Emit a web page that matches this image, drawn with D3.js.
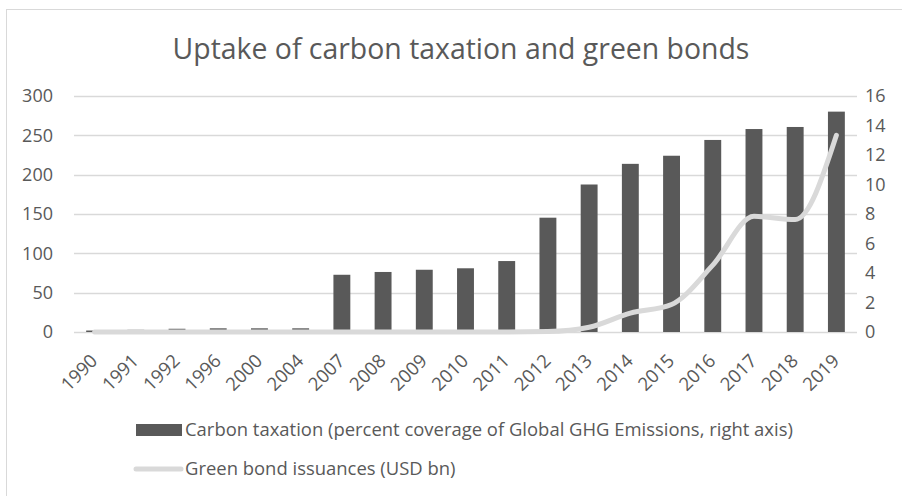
<!DOCTYPE html>
<html>
<head>
<meta charset="utf-8">
<script src="https://cdn.jsdelivr.net/npm/d3@7"></script>
<style>
  body { margin: 0; background: #fff; }
  text { font-family: "Open Sans", "Liberation Sans", sans-serif; fill: #595959; }
</style>
</head>
<body>
<div id="chart"></div>
<script>
// Data
const years = ['1990', '1991', '1992', '1996', '2000', '2004', '2007', '2008', '2009', '2010',
  '2011', '2012', '2013', '2014', '2015', '2016', '2017', '2018', '2019'];
// percent coverage of global GHG emissions (right axis)
const carbonTax = [0.1, 0.15, 0.22, 0.25, 0.25, 0.25, 3.88, 4.07, 4.22, 4.32,
  4.81, 7.75, 10.0, 11.4, 11.95, 13.02, 13.76, 13.9, 14.94];
// USD bn (left axis)
const greenBonds = [0, 0, 0, 0, 0, 0, 0, 0, 0, 0,
  0, 0.5, 6, 24, 35, 85, 147, 143, 250];
const leftTicks = [0, 50, 100, 150, 200, 250, 300];
const rightTicks = [0, 2, 4, 6, 8, 10, 12, 14, 16];

const W = 902, H = 496;
const margin = {top: 96, right: 45, bottom: 164, left: 74};
const width = W - margin.left - margin.right,
  height = H - margin.top - margin.bottom;

const svgRoot = d3.select('#chart').append('svg')
  .attr('width', W)
  .attr('height', H);

// chart area border
svgRoot.append('rect')
  .attr('x', 6.5).attr('y', 9.5)
  .attr('width', W).attr('height', H)
  .attr('fill', 'none')
  .attr('stroke', '#d9d9d9');

// fit a text element to a target width by changing its font size
function fitWidth(sel, target) {
  const node = sel.node();
  const fs = parseFloat(sel.attr('font-size'));
  const w = node.getComputedTextLength();
  sel.attr('font-size', (fs * target / w).toFixed(2));
}

const title = svgRoot.append('text')
  .attr('x', 461).attr('y', 59)
  .attr('text-anchor', 'middle')
  .attr('font-size', 26)
  .text('Uptake of carbon taxation and green bonds');
fitWidth(title, 577);

const svg = svgRoot.append('g')
  .attr('transform', `translate(${margin.left}, ${margin.top})`);

const xScale = d3.scaleBand()
  .domain(years)
  .range([0, width])
  .paddingInner(0.59)
  .paddingOuter(0.295);

const yLeft = d3.scaleLinear().domain([0, 300]).range([height, 0]);
const yRight = d3.scaleLinear().domain([0, 16]).range([height, 0]);

// gridlines
svg.append('g')
  .selectAll('line')
  .data(leftTicks)
  .join('line')
  .attr('x1', 0).attr('x2', width)
  .attr('y1', d => Math.round(yLeft(d)) + 0.5)
  .attr('y2', d => Math.round(yLeft(d)) + 0.5)
  .attr('stroke', '#d9d9d9')
  .attr('stroke-width', 1.3);

// left axis
const leftAxis = svg.append('g')
  .call(d3.axisLeft(yLeft).tickValues(leftTicks).tickSize(0).tickPadding(21));
leftAxis.select('.domain').remove();
leftAxis.selectAll('text').attr('font-size', 18).attr('fill', '#595959')
  .style('font-family', '"Open Sans", sans-serif');

// right axis
const rightAxis = svg.append('g')
  .attr('transform', `translate(${width}, 0)`)
  .call(d3.axisRight(yRight).tickValues(rightTicks).tickSize(0).tickPadding(8));
rightAxis.select('.domain').remove();
rightAxis.selectAll('text').attr('font-size', 18).attr('fill', '#595959')
  .style('font-family', '"Open Sans", sans-serif');

// x axis labels, rotated
const xAxis = svg.append('g')
  .attr('transform', `translate(0, ${height})`)
  .call(d3.axisBottom(xScale).tickSize(0).tickPadding(0));
xAxis.select('.domain').remove();
xAxis.selectAll('text')
  .attr('font-size', 18.5)
  .attr('fill', '#595959')
  .style('font-family', '"Open Sans", sans-serif')
  .attr('text-anchor', 'end')
  .attr('dy', null)
  .attr('y', 0)
  .attr('transform', 'translate(4, 30) rotate(-45)');

// bars
svg.selectAll('rect.bar')
  .data(carbonTax)
  .join('rect')
  .attr('class', 'bar')
  .attr('x', (d, i) => xScale(years[i]))
  .attr('width', xScale.bandwidth())
  .attr('y', d => yRight(d))
  .attr('height', d => height - yRight(d))
  .attr('fill', '#595959');

// green bond line
const line = d3.line()
  .x((d, i) => xScale(years[i]) + xScale.bandwidth() / 2)
  .y(d => yLeft(d))
  .curve(d3.curveMonotoneX);

svg.append('path')
  .datum(greenBonds)
  .attr('d', line)
  .attr('fill', 'none')
  .attr('stroke', '#d9d9d9')
  .attr('stroke-width', 5)
  .attr('stroke-linecap', 'round')
  .attr('stroke-linejoin', 'round');

// legend
const legend = svgRoot.append('g');
legend.append('rect')
  .attr('x', 136).attr('y', 424)
  .attr('width', 46).attr('height', 12)
  .attr('fill', '#595959');
const l1 = legend.append('text')
  .attr('x', 185).attr('y', 436)
  .attr('font-size', 17)
  .text('Carbon taxation (percent coverage of Global GHG Emissions, right axis)');
fitWidth(l1, 608);

legend.append('line')
  .attr('x1', 136).attr('x2', 181)
  .attr('y1', 469).attr('y2', 469)
  .attr('stroke', '#d9d9d9')
  .attr('stroke-width', 5)
  .attr('stroke-linecap', 'round');
const l2 = legend.append('text')
  .attr('x', 185).attr('y', 475)
  .attr('font-size', 17)
  .text('Green bond issuances (USD bn)');
l2.attr('font-size', l1.attr('font-size'));
</script>
</body>
</html>
